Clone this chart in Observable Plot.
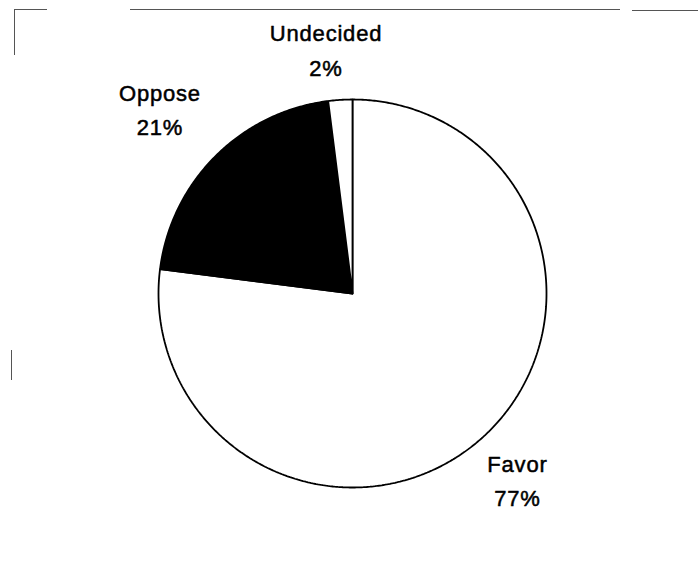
<!DOCTYPE html>
<html><head><meta charset="utf-8">
<script src="https://cdn.jsdelivr.net/npm/d3@7"></script>
<script src="https://cdn.jsdelivr.net/npm/@observablehq/plot@0.6"></script>
<style>
body{margin:0;background:#fff;}
#wrap{position:relative;width:698px;height:573px;overflow:hidden;}
#wrap svg{position:absolute;left:0;top:0;}
.b{position:absolute;background:#555;}
</style>
</head><body>
<div id="wrap">
  <div class="b" style="left:14px;top:9px;width:33px;height:1px"></div>
  <div class="b" style="left:130px;top:9px;width:490px;height:1px"></div>
  <div class="b" style="left:632px;top:10px;width:66px;height:1px"></div>
  <div class="b" style="left:14px;top:9px;width:1px;height:46px"></div>
  <div class="b" style="left:11px;top:350px;width:1px;height:30px"></div>
</div>
<script>
const categories = ["Favor", "Oppose", "Undecided"];
const values = [77, 21, 2];
const percentLabels = ["77%", "21%", "2%"];

const sliceFill = {Favor: "#ffffff", Oppose: "#000000", Undecided: "#ffffff"};
const labelRadius = {Favor: 1.27, Oppose: 1.36, Undecided: 1.27};
const labelShiftPx = {Favor: [2, 0], Oppose: [-6, 0], Undecided: [-11, 0]};

const W = 698, H = 573, cx = 352, cy = 293, R = 194;
const total = d3.sum(values);
let acc = 0;
const slices = categories.map((c, i) => {
  const a0 = acc / total * 2 * Math.PI;
  acc += values[i];
  const a1 = acc / total * 2 * Math.PI;
  return {c, a0, a1, text: c + "\n" + percentLabels[i]};
});
function wedge(s) {
  const pts = [{x: 0, y: 0}];
  const n = Math.max(4, Math.ceil((s.a1 - s.a0) / (Math.PI / 360)));
  for (let k = 0; k <= n; k++) {
    const a = s.a0 + (s.a1 - s.a0) * k / n;
    pts.push({x: Math.sin(a), y: Math.cos(a)});
  }
  pts.push({x: 0, y: 0});
  return pts;
}
const labelData = slices.map(s => {
  const m = (s.a0 + s.a1) / 2, r = labelRadius[s.c], sh = labelShiftPx[s.c];
  return {x: r * Math.sin(m) + sh[0] / R, y: r * Math.cos(m) - sh[1] / R, text: s.text};
});

const marks = [];
for (const s of slices) {
  marks.push(Plot.line(wedge(s), {x: "x", y: "y", fill: sliceFill[s.c], stroke: "#000", strokeWidth: 1.8, strokeLinejoin: "miter", curve: "linear"}));
}
marks.push(Plot.text(labelData, {x: "x", y: "y", text: "text", fontSize: 22, lineHeight: 1.55, fill: "#000", stroke: "#000", strokeWidth: 0.5, textAnchor: "middle"}));

const chart = Plot.plot({
  width: W, height: H, margin: 0,
  x: {domain: [-cx / R, (W - cx) / R], axis: null},
  y: {domain: [-(H - cy) / R, cy / R], axis: null},
  style: {fontFamily: "'Liberation Sans', Arial, sans-serif", letterSpacing: "0.8px", background: "transparent"},
  marks
});
document.getElementById("wrap").appendChild(chart);
</script>
</body></html>
